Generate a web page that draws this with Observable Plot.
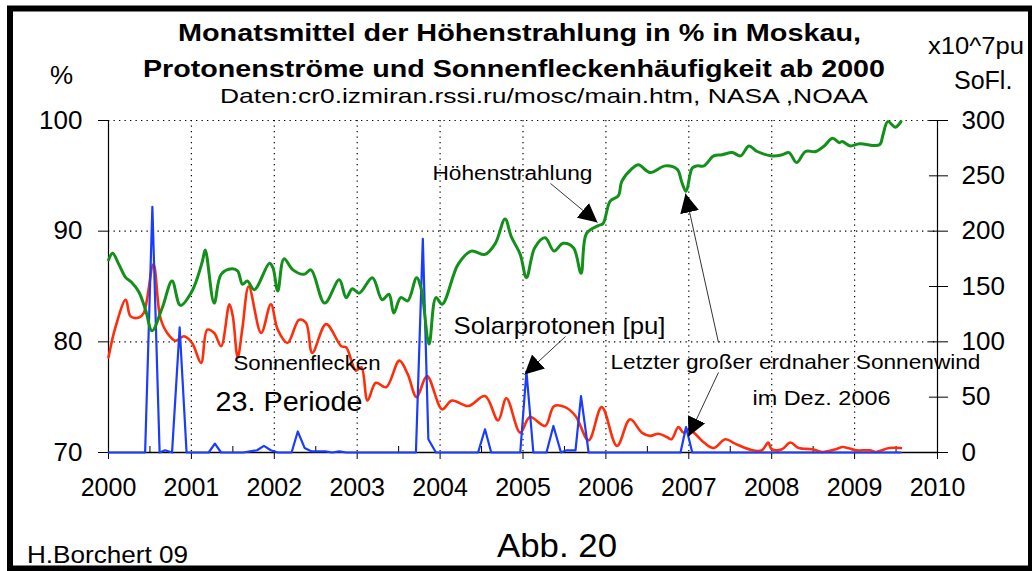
<!DOCTYPE html>
<html><head><meta charset="utf-8">
<script src="https://cdn.jsdelivr.net/npm/d3@7"></script>
<script src="https://cdn.jsdelivr.net/npm/@observablehq/plot@0.6"></script>
<style>
html,body{margin:0;padding:0;background:#fff;}
#chart{position:relative;width:1032px;height:571px;overflow:hidden;}
svg{font-family:"Liberation Sans",Arial,sans-serif;}
</style></head><body><div id="chart"></div>
<script>
// ---- axis ticks ----
const yearTicks = [2000,2001,2002,2003,2004,2005,2006,2007,2008,2009,2010];
const leftTicks = [70,80,90,100];
const rightTicks = [0,50,100,150,200,250,300];

// ---- Höhenstrahlung (cosmic rays, % Moscow), month offset from Jan 2000 ----
const cosmicMonth = [0,0.6,1.5,2.5,3.3,4.4,5.4,6.3,7.8,9.2,10.4,12.1,13.6,14.0,15.3,16.3,17.9,18.7,19.4,20.1,21.1,23.3,23.8,24.5,25.4,26.7,28.3,29.3,31.3,33.4,34.4,35.3,36.3,38.2,39.6,40.6,41.3,42.3,43.3,44.6,45.3,46.4,47.4,48.3,50.6,52.5,54.5,56.0,57.4,58.3,59.6,60.5,61.7,63.2,64.5,65.8,67.3,68.4,69.2,70.9,71.6,72.6,73.8,74.3,75.7,76.7,78.4,80.6,82.3,83.0,83.6,84.5,85.2,86.2,87.6,88.8,90.3,91.5,92.7,93.9,96.1,97.5,98.5,99.6,100.9,102.4,103.6,104.8,105.8,106.2,107.4,108.7,111.6,112.1,112.8,113.9,114.7];
const cosmicPct   = [87.4,88.0,87.0,85.8,85.4,84.5,82.8,81.0,83.1,85.5,83.3,84.6,87.3,88.3,83.5,86.1,86.6,86.4,85.2,85.5,84.7,87.1,86.7,84.6,87.5,86.5,86.1,86.5,83.5,85.6,84.0,84.8,84.4,85.8,83.8,84.3,82.6,84.0,83.7,85.8,84.7,79.8,84.0,83.4,87.0,88.2,87.9,88.9,91.1,89.5,87.9,85.8,88.5,89.4,88.2,88.9,88.5,86.2,89.8,90.5,90.7,92.7,93.2,94.5,95.6,96.0,95.3,95.9,95.6,94.4,93.6,95.7,95.9,95.9,96.8,96.9,97.1,96.8,97.7,97.2,96.8,96.9,97.1,96.2,97.2,97.2,97.7,98.4,98.0,98.1,97.7,97.9,97.8,98.7,99.9,99.4,99.9];

// ---- Sonnenflecken (sunspot number, right axis) ----
const sunspotMonth = [0,1,2.5,3.2,4.4,5.1,6.5,7.5,8.5,9.7,10.9,12.1,13.4,14.3,15.3,16.3,17.5,18.0,18.7,19.4,20.3,22.1,23.5,24.5,25.9,27.6,28.6,29.5,31.5,33.7,34.4,35.8,36.6,37.5,38.7,40.2,42.1,43.3,44.6,46.1,48.3,49.7,52.1,54.5,56.4,57.6,59.6,61.0,63.2,64.5,66.1,67.6,69.5,71.4,73.6,75.5,77.2,78.4,79.6,80.8,81.5,82.5,83.2,84.0,84.9,86.2,87.6,89.3,90.7,93.2,94.6,95.5,96.0,97.5,98.7,99.9,101.9,103.3,105.3,106.3,108.2,110.2,111.1,113.0,114.7];
const sunspotNum   = [86,113,138,123,122,126,170,122,108,101,105,99,81,111,108,96,134,123,86,113,150,108,134,111,99,120,117,90,116,96,95,74,77,47,63,59,83,71,50,69,39,47,42,51,29,49,18,32,24,42,41,33,11,41,6,30,18,15,17,14,12,23,18,21,17,9,4,12,8,2,2,9,3,3,9,4,3,0.5,3,5,2,2,0.5,4,4];

// ---- Solarprotonen (x10^7 pu, right axis) ----
const protonMonth = [0,5.3,6.35,7.4,8.2,9.2,10.3,11.3,14.5,15.4,16.3,19.5,20.5,21.5,22.5,23.5,24.5,26.5,27.4,28.4,29.4,31.4,32.4,33.4,34.4,44.5,45.5,46.3,47.4,53.5,54.5,55.4,59.6,60.5,61.5,63.4,64.4,65.5,66.3,67.6,68.4,69.5,82.8,83.6,84.5,114.7];
const protonFlux  = [0,0,222,0,2,0,113,0,0,8,0,0,1,2,6,2,0,0,19,4,1,1,0,1,0,0,193,12,0,0,21,0,0,73,0,0,24,0,2,2,51,0,0,23,0,0];

// ---- annotation texts (positions in data units: year, %) ----
const noteText  = ["Höhenstrahlung","Solarprotonen [pu]","Letzter großer erdnaher Sonnenwind","im Dez. 2006","Sonnenflecken","23. Periode"];
const noteYear  = [2003.908,2004.162,2006.055,2007.768,2001.508,2001.291];
const notePct   = [94.58,80.75,77.59,74.25,77.50,73.71];
const noteSize  = [20,24,21,21,20,27];
const noteWidth = [160,212,370,138,147,147];

// arrows: [x1,y1,x2,y2] in year / %
const arrowFromYear = [2005.332,2005.513,2007.358,2007.358];
const arrowFromPct  = [94.31,80.48,79.94,77.23];
const arrowToYear   = [2005.899,2005.018,2006.960,2006.996];
const arrowToPct    = [90.78,77.05,93.40,71.45];

const toYear = m => 2000 + m / 12;
const rightToLeft = v => 70 + v / 10;

const cosmic = cosmicMonth.map((m, i) => ({x: toYear(m), y: cosmicPct[i]}));
const sunspots = sunspotMonth.map((m, i) => ({x: toYear(m), y: rightToLeft(sunspotNum[i])}));
const protons = protonMonth.map((m, i) => ({x: toYear(m), y: rightToLeft(protonFlux[i])}));
const notes = noteText.map((t, i) => ({text: t, x: noteYear[i], y: notePct[i], size: noteSize[i], width: noteWidth[i]}));
const arrows = arrowFromYear.map((x1, i) => ({x1, y1: arrowFromPct[i], x2: arrowToYear[i], y2: arrowToPct[i]}));
const halfYears = yearTicks.slice(0, -1).map(y => y + 0.5);

function triMarker(color, context) {
  const m = d3.create("svg:marker")
    .attr("viewBox", "-19 -10 20 20")
    .attr("markerWidth", 20).attr("markerHeight", 20)
    .attr("markerUnits", "userSpaceOnUse")
    .attr("refX", 0).attr("refY", 0)
    .attr("orient", "auto");
  m.append("path").attr("d", "M0,0L-19,-9.5L-19,9.5Z").attr("fill", "black").attr("stroke", "none");
  return m.node();
}

const dotted = {stroke: "black", strokeOpacity: 1, strokeWidth: 1.2, strokeDasharray: "1.3,4.2"};

const plot = Plot.plot({
  width: 1032, height: 571,
  marginLeft: 108, marginRight: 95, marginTop: 120, marginBottom: 119,
  x: {domain: [2000, 2010]},
  y: {domain: [70, 100]},
  style: {fontFamily: "'Liberation Sans', Arial, sans-serif", background: "white", color: "black"},
  marks: [
    Plot.gridX(yearTicks.slice(1, -1), dotted),
    Plot.gridY([80, 90, 100], dotted),
    Plot.ruleX([2000, 2010], {stroke: "black", strokeWidth: 1.2}),
    Plot.ruleY([70], {stroke: "black", strokeWidth: 1.4}),
    Plot.axisX({ticks: yearTicks, tickFormat: d => String(d), tickSize: 7, tickPadding: 19, fontSize: 25, label: null}),
    Plot.axisX({ticks: halfYears, tickFormat: () => "", tickSize: 6, dy: -6, label: null}),
    Plot.axisY({ticks: leftTicks, anchor: "left", tickSize: 10, tickPadding: 16, fontSize: 26, label: null}),
    Plot.axisY({ticks: rightTicks.map(rightToLeft), anchor: "right", tickSize: 19, dx: -9, tickPadding: 14, fontSize: 26, label: null,
      tickFormat: d => String(Math.round((d - 70) * 10))}),
    Plot.line(sunspots, {x: "x", y: "y", stroke: "#ff2d0a", strokeWidth: 2.6, curve: "catmull-rom"}),
    Plot.line(protons, {x: "x", y: "y", stroke: "#1a3cff", strokeWidth: 2.2}),
    Plot.line(cosmic, {x: "x", y: "y", stroke: "#12901a", strokeWidth: 3, curve: "catmull-rom"}),
    Plot.link(arrows, {x1: "x1", y1: "y1", x2: "x2", y2: "y2", stroke: "black", strokeWidth: 0.8, markerEnd: triMarker}),
    ...notes.map(n => Plot.text([n], {x: "x", y: "y", text: "text", fontSize: n.size, textAnchor: "start", lineAnchor: "bottom", fill: "black"}))
  ]
});

const svg = d3.select(plot);
const widths = new Map(notes.map(n => [n.text, n.width]));
svg.selectAll("text").each(function () {
  const w = widths.get(this.textContent);
  if (w) d3.select(this).attr("textLength", w).attr("lengthAdjust", "spacingAndGlyphs");
});

// titles and side labels
const labels = [
  {t: "Monatsmittel der Höhenstrahlung in % in Moskau,", x: 178, y: 41, s: 23, w: 683, b: true},
  {t: "Protonenströme und Sonnenfleckenhäufigkeit ab 2000", x: 143, y: 77, s: 23, w: 742, b: true},
  {t: "Daten:cr0.izmiran.rssi.ru/mosc/main.htm, NASA ,NOAA", x: 220, y: 103, s: 21, w: 648},
  {t: "%", x: 50, y: 84, s: 26},
  {t: "x10^7pu", x: 928, y: 54, s: 24, w: 96},
  {t: "SoFl.", x: 954, y: 89, s: 25},
  {t: "H.Borchert 09", x: 27, y: 563, s: 24, w: 161},
  {t: "Abb. 20", x: 497, y: 557, s: 33, w: 120}
];
const g = svg.append("g").attr("text-anchor", "start");
labels.forEach(l => {
  const t = g.append("text").attr("x", l.x).attr("y", l.y).attr("font-size", l.s)
    .attr("text-anchor", "start")
    .attr("font-weight", l.b ? "bold" : null).attr("fill", "black").text(l.t);
  if (l.w) t.attr("textLength", l.w).attr("lengthAdjust", "spacingAndGlyphs");
});
svg.append("rect").attr("x", 10).attr("y", 8.5).attr("width", 1021).attr("height", 560)
  .attr("fill", "none").attr("stroke", "black").attr("stroke-width", 6);

document.getElementById("chart").appendChild(plot);
</script></body></html>
